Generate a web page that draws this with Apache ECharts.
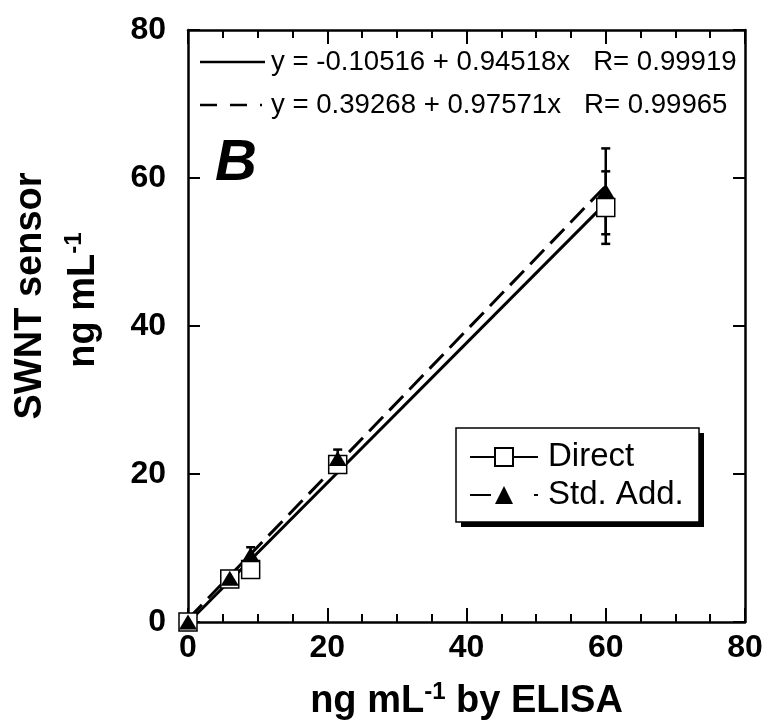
<!DOCTYPE html>
<html>
<head>
<meta charset="utf-8">
<script src="https://cdn.jsdelivr.net/npm/echarts@6/dist/echarts.min.js"></script>
<style>html,body{margin:0;padding:0;background:#fff;}#c{width:783px;height:728px;}</style>
</head>
<body>
<div id="c"></div>
<script>
// ---- data ----
const elisa = [0, 6, 9, 21.5, 60];
const direct = [0, 5.8, 7.1, 21.3, 56.0];
const directErr = [0, 0, 0, 0.6, 4.9];
const stdAdd = [0, 5.9, 9.1, 22.1, 58.2];
const stdAddErr = [0, 0, 1.0, 1.2, 5.8];
const fitNames = ['Direct fit', 'Std. Add. fit'];
const fitIntercept = [-0.10516, 0.39268];
const fitSlope = [0.94518, 0.97571];
const fitR = [0.99919, 0.99965];
const fitRange = [0, 60];
const xTicks = [0, 20, 40, 60, 80];
const yTicks = [0, 20, 40, 60, 80];

const FONT = 'Liberation Sans, Arial, sans-serif';
const chart = echarts.init(document.getElementById('c'), null, {renderer: 'canvas'});

function pairs(xs, ys) { return xs.map((x, i) => [x, ys[i]]); }
function errData(xs, ys, es) { return xs.map((x, i) => [x, ys[i], es[i]]); }
function fitLine(k) { return fitRange.map(x => [x, fitIntercept[k] + fitSlope[k] * x]); }

function errRender(params, api) {
  const x = api.value(0), y = api.value(1), e = api.value(2);
  if (!e) return null;
  const top = api.coord([x, y + e]);
  const bot = api.coord([x, y - e]);
  const cw = 4.5;
  const st = {stroke: '#000', lineWidth: 2.5};
  return {type: 'group', children: [
    {type: 'line', shape: {x1: top[0], y1: top[1], x2: bot[0], y2: bot[1]}, style: st},
    {type: 'line', shape: {x1: top[0] - cw, y1: top[1], x2: top[0] + cw, y2: top[1]}, style: st},
    {type: 'line', shape: {x1: bot[0] - cw, y1: bot[1], x2: bot[0] + cw, y2: bot[1]}, style: st}
  ]};
}

const axisLineStyle = {color: '#000', width: 2.5};
const tickStyle = {color: '#000', width: 2};
const labelStyle = {color: '#000', fontFamily: FONT, fontWeight: 'bold', fontSize: 32};

function xAxisDef(pos, withLabels) {
  const a = {type: 'value', min: xTicks[0], max: xTicks[xTicks.length - 1], interval: 20, position: pos,
    axisLine: {show: true, onZero: false, lineStyle: axisLineStyle},
    axisTick: {show: true, inside: true, length: 14, lineStyle: tickStyle},
    minorTick: {show: true, splitNumber: 4, length: 8, lineStyle: tickStyle},
    splitLine: {show: false}, minorSplitLine: {show: false},
    axisLabel: withLabels ? Object.assign({margin: 10}, labelStyle) : {show: false}};
  return a;
}
function yAxisDef(pos, withLabels) {
  return {type: 'value', min: yTicks[0], max: yTicks[yTicks.length - 1], interval: 20, position: pos,
    axisLine: {show: true, onZero: false, lineStyle: axisLineStyle},
    axisTick: {show: true, inside: true, length: 12, lineStyle: tickStyle},
    splitLine: {show: false},
    axisLabel: withLabels ? Object.assign({margin: 22}, labelStyle) : {show: false}};
}

const xMain = xAxisDef('bottom', true);
xMain.name = 'ng mL{sup|-1} by ELISA';
xMain.nameLocation = 'middle';
xMain.nameGap = 58;
xMain.nameTextStyle = {color: '#000', fontFamily: FONT, fontWeight: 'bold', fontSize: 38,
  rich: {sup: {fontFamily: FONT, fontWeight: 'bold', fontSize: 24, verticalAlign: 'top', padding: [0, 0, 20, 0]}}};

const option = {
  animation: false,
  backgroundColor: '#fff',
  grid: {left: 188, right: 38, top: 30, bottom: 106, containLabel: false},
  xAxis: [xMain, xAxisDef('top', false)],
  yAxis: [yAxisDef('left', true), yAxisDef('right', false)],
  legend: {
    orient: 'vertical', left: 469, top: 439, padding: 0, itemGap: 2,
    itemWidth: 68, itemHeight: 22.5,
    textStyle: {color: '#000', fontFamily: FONT, fontSize: 33, lineHeight: 36, padding: [0, 0, 0, 5]},
    z: 6,
    data: [
      {name: 'Direct', lineStyle: {color: '#000', width: 2, type: 'solid', opacity: 1}},
      {name: 'Std. Add.', lineStyle: {color: '#000', width: 2, type: [21, 43], opacity: 1}}
    ]
  },
  series: [
    {name: fitNames[0], type: 'line', data: fitLine(0), showSymbol: false, symbol: 'none', silent: true,
     lineStyle: {color: '#000', width: 3, type: 'solid'}, z: 2},
    {name: fitNames[1], type: 'line', data: fitLine(1), showSymbol: false, symbol: 'none', silent: true,
     lineStyle: {color: '#000', width: 3, type: [20, 9]}, z: 2},
    {name: 'Direct err', type: 'custom', renderItem: errRender, data: errData(elisa, direct, directErr), z: 3, clip: false},
    {name: 'Std err', type: 'custom', renderItem: errRender, data: errData(elisa, stdAdd, stdAddErr), z: 3, clip: false},
    {name: 'Direct', type: 'line', data: pairs(elisa, direct), symbol: 'rect', symbolSize: 18, showAllSymbol: true,
     clip: false, lineStyle: {opacity: 0, width: 2, color: '#000'},
     itemStyle: {color: '#fff', borderColor: '#000', borderWidth: 1.5}, z: 4},
    {name: 'Std. Add.', type: 'line', data: pairs(elisa, stdAdd), symbol: 'triangle', symbolSize: [18, 15], showAllSymbol: true,
     clip: false, lineStyle: {opacity: 0, width: 2, color: '#000'},
     itemStyle: {color: '#000', borderColor: '#000', borderWidth: 0}, z: 5}
  ],
  graphic: [
    // legend frame with drop shadow
    {type: 'rect', shape: {x: 461, y: 433, width: 243, height: 94}, style: {fill: '#000'}, z: 3},
    {type: 'rect', shape: {x: 456, y: 428, width: 243, height: 94}, style: {fill: '#fff', stroke: '#000', lineWidth: 1.5}, z: 3},
    // regression equations
    {type: 'line', shape: {x1: 200, y1: 62, x2: 265, y2: 62}, style: {stroke: '#000', lineWidth: 2.5}, z: 10},
    {type: 'text', x: 271, y: 62, style: {text: 'y = ' + fitIntercept[0] + ' + ' + fitSlope[0] + 'x   R= ' + fitR[0],
      fontFamily: FONT, fontSize: 27.6, fill: '#000', textVerticalAlign: 'middle'}, z: 10},
    {type: 'line', shape: {x1: 200, y1: 105, x2: 262, y2: 105}, style: {stroke: '#000', lineWidth: 2.5, lineDash: [17, 13]}, z: 10},
    {type: 'text', x: 271, y: 105, style: {text: 'y = ' + fitIntercept[1] + ' + ' + fitSlope[1] + 'x   R= ' + fitR[1],
      fontFamily: FONT, fontSize: 27.6, fill: '#000', textVerticalAlign: 'middle'}, z: 10},
    {type: 'text', x: 236, y: 164, style: {text: 'B', fontFamily: FONT, fontSize: 58, fontWeight: 'bold', fontStyle: 'italic',
      fill: '#000', textAlign: 'center', textVerticalAlign: 'middle'}, z: 10},
    // y axis title
    {type: 'text', x: 31, y: 296, rotation: Math.PI / 2, style: {text: 'SWNT sensor', fontFamily: FONT, fontSize: 38, fontWeight: 'bold',
      fill: '#000', textAlign: 'center', textVerticalAlign: 'middle'}, z: 10},
    {type: 'text', x: 84, y: 300, rotation: Math.PI / 2, style: {text: 'ng mL{sup|-1}', fontFamily: FONT, fontSize: 38, fontWeight: 'bold',
      fill: '#000', textAlign: 'center', textVerticalAlign: 'middle',
      rich: {sup: {fontFamily: FONT, fontSize: 24, fontWeight: 'bold', fill: '#000', verticalAlign: 'top', padding: [0, 0, 20, 0]}}}, z: 10}
  ]
};
chart.setOption(option);
</script>
</body>
</html>
